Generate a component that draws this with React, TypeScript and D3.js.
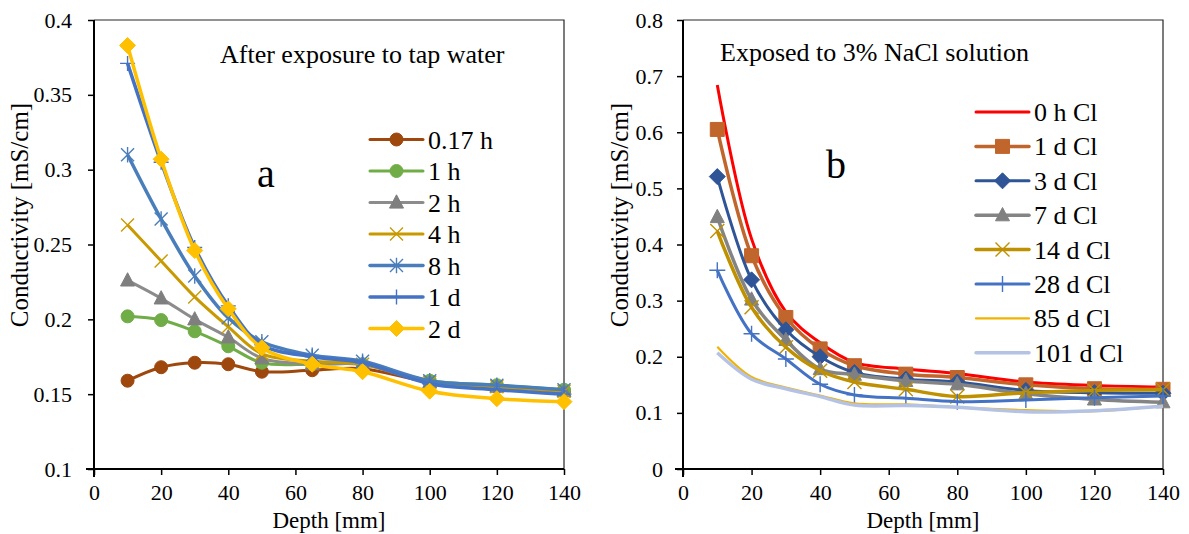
import React, { useEffect, useRef } from 'react';
import * as d3 from 'd3';

// depth positions shared by both panels [mm]
const depths = [10, 20, 30, 40, 50, 65, 80, 100, 120, 140];
const xTicks = [0, 20, 40, 60, 80, 100, 120, 140];

// panel a: tap water
const tapLabels = ['0.17 h', '1 h', '2 h', '4 h', '8 h', '1 d', '2 d'];
const tap017h = [0.159, 0.168, 0.171, 0.17, 0.165, 0.166, 0.167, 0.158, 0.155, 0.152];
const tap1h = [0.202, 0.1995, 0.192, 0.182, 0.171, 0.17, 0.17, 0.159, 0.156, 0.153];
const tap2h = [0.226, 0.214, 0.2, 0.188, 0.174, 0.17, 0.17, 0.158, 0.155, 0.152];
const tap4h = [0.263, 0.239, 0.215, 0.195, 0.177, 0.172, 0.17, 0.158, 0.155, 0.152];
const tap8h = [0.31, 0.267, 0.229, 0.201, 0.185, 0.176, 0.172, 0.159, 0.156, 0.153];
const tap1d = [0.371, 0.305, 0.248, 0.209, 0.183, 0.175, 0.171, 0.157, 0.153, 0.15];
const tap2d = [0.383, 0.307, 0.246, 0.207, 0.181, 0.17, 0.165, 0.152, 0.147, 0.145];
const tapYTicks = [0.1, 0.15, 0.2, 0.25, 0.3, 0.35, 0.4];

// panel b: 3% NaCl
const naclLabels = ['0 h Cl', '1 d Cl', '3 d Cl', '7 d Cl', '14 d Cl', '28 d Cl', '85 d Cl', '101 d Cl'];
const nacl0h = [0.684, 0.41, 0.28, 0.225, 0.19, 0.178, 0.17, 0.155, 0.149, 0.146];
const nacl1d = [0.605, 0.38, 0.27, 0.214, 0.184, 0.169, 0.163, 0.15, 0.143, 0.142];
const nacl3d = [0.521, 0.337, 0.248, 0.2, 0.172, 0.16, 0.155, 0.14, 0.136, 0.135];
const nacl7d = [0.449, 0.302, 0.23, 0.178, 0.168, 0.157, 0.151, 0.134, 0.124, 0.119];
const nacl14d = [0.424, 0.288, 0.217, 0.175, 0.155, 0.142, 0.129, 0.136, 0.14, 0.141];
const nacl28d = [0.354, 0.241, 0.196, 0.151, 0.132, 0.126, 0.12, 0.123, 0.127, 0.13];
const nacl85d = [0.218, 0.164, 0.145, 0.131, 0.117, 0.115, 0.11, 0.105, 0.103, 0.113];
const nacl101d = [0.207, 0.16, 0.143, 0.129, 0.114, 0.113, 0.11, 0.102, 0.104, 0.112];
const naclYTicks = [0, 0.1, 0.2, 0.3, 0.4, 0.5, 0.6, 0.7, 0.8];

const FONT = "'Liberation Serif', 'Times New Roman', serif";

// marker shapes, h = half size
const markerPath = (kind, h) => {
  switch (kind) {
    case 'circle':
      return `M${-h},0a${h},${h} 0 1,0 ${2 * h},0a${h},${h} 0 1,0 ${-2 * h},0Z`;
    case 'triangle':
      return `M0,${-h * 1.1}L${h},${h * 0.8}L${-h},${h * 0.8}Z`;
    case 'x':
      return `M${-h},${-h}L${h},${h}M${-h},${h}L${h},${-h}`;
    case 'asterisk':
      return `M${-h},${-h}L${h},${h}M${-h},${h}L${h},${-h}M0,${-h * 1.2}L0,${h * 1.2}`;
    case 'plus':
      return `M${-h},0L${h},0M0,${-h}L0,${h}`;
    case 'diamond':
      return `M0,${-h}L${h},0L0,${h}L${-h},0Z`;
    case 'square':
      return `M${-h},${-h}H${h}V${h}H${-h}Z`;
    default:
      return '';
  }
};
const strokeOnly = (k) => k === 'x' || k === 'asterisk' || k === 'plus';

const tapStyles = [
  { color: '#9E480E', width: 3, marker: 'circle', mcolor: '#9E480E', size: 6.5 },
  { color: '#70AD47', width: 3, marker: 'circle', mcolor: '#70AD47', size: 6.5 },
  { color: '#8C8C8C', width: 3, marker: 'triangle', mcolor: '#7F7F7F', size: 7 },
  { color: '#C99A00', width: 3, marker: 'x', mcolor: '#C99A00', size: 6.5 },
  { color: '#4A7EBB', width: 3.5, marker: 'asterisk', mcolor: '#4A7EBB', size: 6.5 },
  { color: '#4472C4', width: 3.5, marker: 'plus', mcolor: '#4472C4', size: 7.5 },
  { color: '#FFC000', width: 3.5, marker: 'diamond', mcolor: '#FFC000', size: 8 },
];

const naclStyles = [
  { color: '#FF0000', width: 3, marker: null },
  { color: '#C0652C', width: 3.5, marker: 'square', mcolor: '#C0652C', size: 7 },
  { color: '#2F5597', width: 3, marker: 'diamond', mcolor: '#2F5597', size: 8 },
  { color: '#848484', width: 3.5, marker: 'triangle', mcolor: '#808080', size: 7 },
  { color: '#BF9000', width: 3.5, marker: 'x', mcolor: '#BF9000', size: 7 },
  { color: '#4472C4', width: 3, marker: 'plus', mcolor: '#4472C4', size: 8 },
  { color: '#F2B200', width: 2.2, marker: null },
  { color: '#B4C2E4', width: 3.5, marker: null },
];

const drawPanel = (svg, cfg) => {
  const g = svg.append('g').attr('font-family', FONT);
  const x = d3.scaleLinear().domain([0, 140]).range([cfg.left, cfg.right]);
  const y = d3.scaleLinear().domain(cfg.yDomain).range([cfg.bottom, cfg.top]);

  // frame
  g.append('path')
    .attr('d', `M${cfg.left},${cfg.top}H${cfg.right}V${cfg.bottom}`)
    .attr('fill', 'none')
    .attr('stroke', '#262626')
    .attr('stroke-width', 1.2);

  const fmt = (d) => String(+d.toFixed(2));

  const xAxis = g
    .append('g')
    .attr('transform', `translate(0,${cfg.bottom})`)
    .call(d3.axisBottom(x).tickValues(xTicks).tickSize(6).tickPadding(9).tickFormat(fmt));
  const yAxis = g
    .append('g')
    .attr('transform', `translate(${cfg.left},0)`)
    .call(d3.axisLeft(y).tickValues(cfg.yTicks).tickSize(6).tickPadding(cfg.yPad).tickFormat(fmt));

  [xAxis, yAxis].forEach((a) => {
    a.attr('font-family', FONT).attr('font-size', 22);
    a.select('.domain').attr('stroke', '#000').attr('stroke-width', 2);
    a.selectAll('.tick line').attr('stroke', '#000').attr('stroke-width', 1.5);
    a.selectAll('.tick text').attr('fill', '#000');
  });
  // extend axis lines a bit past the origin like the original
  xAxis.select('.domain').attr('d', `M${cfg.left - 8},0H${cfg.right}`);
  yAxis.select('.domain').attr('d', `M0,${cfg.top}V${cfg.bottom + 8}`);

  // axis titles
  g.append('text')
    .attr('x', (cfg.left + cfg.right) / 2)
    .attr('y', 528)
    .attr('text-anchor', 'middle')
    .attr('font-size', 23)
    .text('Depth [mm]');
  g.append('text')
    .attr('transform', `translate(${cfg.yTitleX},215) rotate(-90)`)
    .attr('text-anchor', 'middle')
    .attr('font-size', 25)
    .text('Conductivity [mS/cm]');

  // annotation
  g.append('text')
    .attr('x', cfg.titleX)
    .attr('y', cfg.titleY)
    .attr('font-size', 26)
    .text(cfg.title);
  g.append('text')
    .attr('x', cfg.letterX)
    .attr('y', cfg.letterY)
    .attr('font-size', 40)
    .text(cfg.letter);

  const line = d3
    .line()
    .x((d) => x(d[0]))
    .y((d) => y(d[1]))
    .curve(d3.curveCatmullRom.alpha(0.5));

  const drawMarker = (sel, st, cx, cy) => {
    const so = strokeOnly(st.marker);
    sel
      .append('path')
      .attr('transform', `translate(${cx},${cy})`)
      .attr('d', markerPath(st.marker, st.size))
      .attr('fill', so ? 'none' : st.mcolor)
      .attr('stroke', st.mcolor)
      .attr('stroke-width', so ? 1.4 : 1);
  };

  cfg.series.forEach((vals, i) => {
    const st = cfg.styles[i];
    const pts = depths.map((d, j) => [d, vals[j]]);
    const sg = g.append('g');
    sg.append('path')
      .attr('d', line(pts))
      .attr('fill', 'none')
      .attr('stroke', st.color)
      .attr('stroke-width', st.width)
      .attr('stroke-linejoin', 'round');
    if (st.marker) {
      pts.forEach((p) => drawMarker(sg, st, x(p[0]), y(p[1])));
    }
  });

  // legend
  cfg.labels.forEach((lab, i) => {
    const st = cfg.styles[i];
    const ly = cfg.legY + i * cfg.legStep;
    const lg = g.append('g');
    lg.append('line')
      .attr('x1', cfg.legX)
      .attr('x2', cfg.legX + 53)
      .attr('y1', ly)
      .attr('y2', ly)
      .attr('stroke', st.color)
      .attr('stroke-width', st.width)
      .attr('stroke-linecap', 'round');
    if (st.marker) drawMarker(lg, st, cfg.legX + 26.5, ly);
    lg.append('text')
      .attr('x', cfg.legX + 58)
      .attr('y', ly + 9)
      .attr('font-size', 26)
      .text(lab);
  });
};

const App = () => {
  const svgRef = useRef(null);

  useEffect(() => {
    d3.select(svgRef.current).selectAll('*').remove();
    const svg = d3.select(svgRef.current);

    drawPanel(svg, {
      left: 94,
      right: 564,
      top: 20,
      bottom: 469,
      yDomain: [0.1, 0.4],
      yTicks: tapYTicks,
      yPad: 16,
      yTitleX: 28,
      title: 'After exposure to tap water',
      titleX: 220,
      titleY: 63,
      letter: 'a',
      letterX: 257,
      letterY: 187,
      series: [tap017h, tap1h, tap2h, tap4h, tap8h, tap1d, tap2d],
      styles: tapStyles,
      labels: tapLabels,
      legX: 370,
      legY: 139.5,
      legStep: 31.5,
    });

    drawPanel(svg, {
      left: 683,
      right: 1163,
      top: 20,
      bottom: 469,
      yDomain: [0, 0.8],
      yTicks: naclYTicks,
      yPad: 14,
      yTitleX: 628,
      title: 'Exposed to 3% NaCl solution',
      titleX: 720,
      titleY: 61,
      letter: 'b',
      letterX: 826,
      letterY: 178,
      series: [nacl0h, nacl1d, nacl3d, nacl7d, nacl14d, nacl28d, nacl85d, nacl101d],
      styles: naclStyles,
      labels: naclLabels,
      legX: 976,
      legY: 112,
      legStep: 34.4,
    });
  }, []);

  return (
    <svg
      ref={svgRef}
      width={1189}
      height={534}
      style={{ position: 'absolute', left: 0, top: 0, background: '#fff' }}
    ></svg>
  );
};

export default App;
